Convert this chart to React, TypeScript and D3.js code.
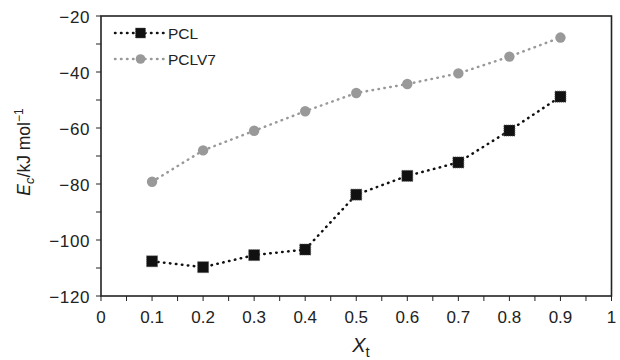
import React from "react";
import * as d3 from "d3";

const xValues = [0.1, 0.2, 0.3, 0.4, 0.5, 0.6, 0.7, 0.8, 0.9];
const pclValues = [-107.6, -109.7, -105.4, -103.4, -83.8, -77.1, -72.3, -60.9, -48.8];
const pclv7Values = [-79.2, -68.0, -61.0, -54.0, -47.5, -44.3, -40.5, -34.5, -27.7];
const xTicks = [0, 0.1, 0.2, 0.3, 0.4, 0.5, 0.6, 0.7, 0.8, 0.9, 1];
const yTicks = [-20, -40, -60, -80, -100, -120];
const seriesNames = ["PCL", "PCLV7"];

export default function App() {
  const W = 620, H = 360;
  const left = 101, right = 611.5, top = 16, bottom = 296;
  const x = d3.scaleLinear().domain([0, 1]).range([left, right]);
  const y = d3.scaleLinear().domain([-120, -20]).range([bottom, top]);
  const line = d3.line<[number, number]>().x(d => x(d[0])).y(d => y(d[1]));
  const pcl = xValues.map((v, i) => [v, pclValues[i]] as [number, number]);
  const pclv7 = xValues.map((v, i) => [v, pclv7Values[i]] as [number, number]);
  const xMinor = d3.range(0, 21).map(i => i * 0.05);
  const yMinor = d3.range(0, 11).map(i => -120 + i * 10);
  const font = "Liberation Sans, Arial, sans-serif";
  const gray = "#999";
  const black = "#111";
  const dash = "0.5,5.5";
  return (
    <svg width={W} height={H} style={{ position: "absolute", left: 0, top: 0 }} fontFamily={font}>
      <rect x={0} y={0} width={W} height={H} fill="#fff" />
      <rect x={left} y={top} width={right - left} height={bottom - top} fill="none" stroke="#222" strokeWidth={1.6} />
      {xMinor.map((t, i) => (
        <line key={"xt" + i} x1={x(t)} x2={x(t)} y1={bottom} y2={bottom + 5} stroke="#222" strokeWidth={1} />
      ))}
      {yMinor.map((t, i) => (
        <line key={"yt" + i} x1={left - 5} x2={left} y1={y(t)} y2={y(t)} stroke="#222" strokeWidth={1} />
      ))}
      {xTicks.map((t, i) => (
        <text key={"xl" + i} x={x(t)} y={bottom + 26.5} fontSize={17} textAnchor="middle" fill="#222">
          {d3.format("~g")(t)}
        </text>
      ))}
      {yTicks.map((t, i) => (
        <text key={"yl" + i} x={left - 11} y={y(t) + 7} fontSize={17} letterSpacing={0.6} textAnchor="end" fill="#222">
          {"\u2212" + Math.abs(t)}
        </text>
      ))}
      <text x={361} y={352} fontSize={20} textAnchor="middle" fill="#222">
        <tspan fontStyle="italic">X</tspan>
        <tspan fontSize={15} dy={5}>t</tspan>
      </text>
      <text transform={`translate(30,152) rotate(-90)`} fontSize={17.5} textAnchor="middle" fill="#222">
        <tspan fontStyle="italic">E</tspan>
        <tspan fontStyle="italic" fontSize={13} dy={4}>c</tspan>
        <tspan dy={-4}>/kJ mol</tspan>
        <tspan fontSize={12} dy={-7}>{"\u22121"}</tspan>
      </text>
      <path d={line(pclv7) || ""} fill="none" stroke={gray} strokeWidth={2.5} strokeDasharray={dash} strokeLinecap="round" />
      <path d={line(pcl) || ""} fill="none" stroke={black} strokeWidth={2.5} strokeDasharray={dash} strokeLinecap="round" />
      {pclv7.map((d, i) => (
        <circle key={"c" + i} cx={x(d[0])} cy={y(d[1])} r={5.2} fill={gray} />
      ))}
      {pcl.map((d, i) => (
        <rect key={"s" + i} x={x(d[0]) - 5.5} y={y(d[1]) - 5.5} width={11} height={11} fill={black} stroke="#555" strokeWidth={0.8} strokeDasharray="1,1" />
      ))}
      <line x1={115} x2={166} y1={33} y2={33} stroke={black} strokeWidth={2.5} strokeDasharray={dash} strokeLinecap="round" />
      <rect x={135.5} y={28} width={10} height={10} fill={black} stroke="#555" strokeWidth={0.8} strokeDasharray="1,1" />
      <text x={168} y={38.5} fontSize={15.5} fill="#222">{seriesNames[0]}</text>
      <line x1={115} x2={166} y1={59} y2={59} stroke={gray} strokeWidth={2.5} strokeDasharray={dash} strokeLinecap="round" />
      <circle cx={140.5} cy={59} r={4.8} fill={gray} />
      <text x={168} y={64.5} fontSize={15.5} fill="#222">{seriesNames[1]}</text>
    </svg>
  );
}
